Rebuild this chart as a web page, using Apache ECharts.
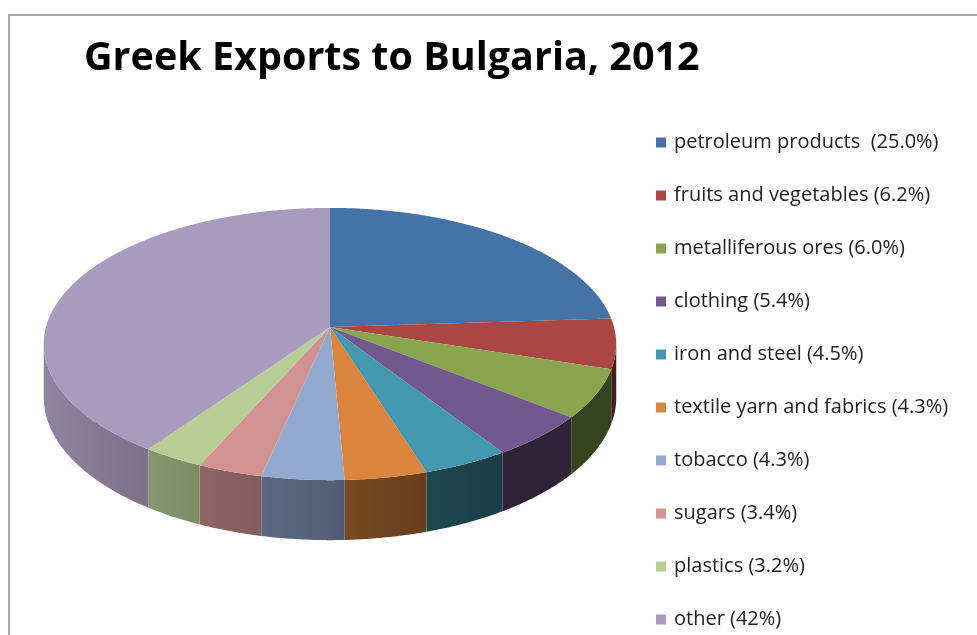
<!DOCTYPE html>
<html>
<head>
<meta charset="utf-8">
<script src="https://cdn.jsdelivr.net/npm/echarts@6/dist/echarts.min.js"></script>
<style>
  html, body { margin: 0; padding: 0; background: #fff; }
  #chart { width: 977px; height: 635px; }
</style>
</head>
<body>
<div id="chart"></div>
<script>
// Export categories and their shares (percent) in drawing order, clockwise from 12 o'clock
const categories = [
  'petroleum products', 'fruits and vegetables', 'metalliferous ores', 'clothing',
  'iron and steel', 'textile yarn and fabrics', 'tobacco', 'sugars', 'plastics', 'other'
];
const shares = [25.0, 6.2, 6.0, 5.4, 4.5, 4.3, 4.3, 3.4, 3.2, 42];
const shareText = ['25.0', '6.2', '6.0', '5.4', '4.5', '4.3', '4.3', '3.4', '3.2', '42'];
const sliceColors = [
  '#4572A7', '#AA4643', '#89A54E', '#71588F', '#4198AF',
  '#DB843D', '#93A9CF', '#D19392', '#B9CD96', '#A99BBD'
];

const legendNames = categories.map((c, i) => c + (i === 0 ? '  ' : ' ') + '(' + shareText[i] + '%)');

// Tilted-disc geometry (screen pixels)
const CX = 330, CY = 327;      // apex of the pie on the top face
const RX = 284, RY = 134;      // half-axes before perspective
const K = 0.125;               // perspective strength (far side shrinks)
const DEPTH = 52.5;            // disc thickness before perspective

const total = shares.reduce((a, b) => a + b, 0);
const TWO_PI = Math.PI * 2;

function project(theta, drop) {
  const u = Math.sin(theta), v = Math.cos(theta);
  const s = 1 / (1 + K * v);
  return [CX + RX * u * s, CY - RY * v * s + drop * s];
}

function shade(hex, f) {
  const n = parseInt(hex.slice(1), 16);
  const r = Math.round(((n >> 16) & 255) * f);
  const g = Math.round(((n >> 8) & 255) * f);
  const b = Math.round((n & 255) * f);
  return 'rgb(' + r + ',' + g + ',' + b + ')';
}

// Side lighting: walls facing left are lit, those facing right fall into shadow
function wallFactor(theta) {
  const u = Math.sin(theta);
  return Math.max(0.4, 0.56 - 0.3 * u);
}

function arc(a0, a1, drop) {
  const pts = [];
  const steps = Math.max(2, Math.ceil(Math.abs(a1 - a0) / (Math.PI / 360)));
  for (let j = 0; j <= steps; j++) {
    pts.push(project(a0 + (a1 - a0) * j / steps, drop));
  }
  return pts;
}

// Visible front rim lies between the two silhouette points
const FRONT_START = Math.acos(-K);
const FRONT_END = TWO_PI - Math.acos(-K);

function renderSlice(index, api) {
  let before = 0;
  for (let j = 0; j < index; j++) before += shares[j];
  const a0 = before / total * TWO_PI;
  const a1 = (before + api.value(0)) / total * TWO_PI;
  const color = sliceColors[index];
  const children = [];

  const w0 = Math.max(a0, FRONT_START), w1 = Math.min(a1, FRONT_END);
  if (w1 > w0) {
    const top = arc(w0, w1, 0);
    const bottom = arc(w0, w1, DEPTH).reverse();
    const xa = project(w0, 0)[0], xb = project(w1, 0)[0];
    const xmin = Math.min(xa, xb), xmax = Math.max(xa, xb);
    const stops = [];
    const n = 8;
    for (let j = 0; j <= n; j++) {
      const t = w0 + (w1 - w0) * j / n;
      const x = project(t, 0)[0];
      stops.push({ offset: xmax > xmin ? (x - xmin) / (xmax - xmin) : 0, color: shade(color, wallFactor(t)) });
    }
    stops.sort((p, q) => p.offset - q.offset);
    children.push({
      type: 'polygon',
      shape: { points: top.concat(bottom) },
      style: { fill: new echarts.graphic.LinearGradient(xmin, 0, xmax, 0, stops, true) },
      silent: true
    });
  }

  children.push({
    type: 'polygon',
    shape: { points: [[CX, CY]].concat(arc(a0, a1, 0)) },
    style: { fill: color },
    silent: true
  });

  return { type: 'group', children: children };
}

const chart = echarts.init(document.getElementById('chart'));
chart.setOption({
  animation: false,
  backgroundColor: '#fff',
  title: {
    text: 'Greek Exports to Bulgaria, 2012',
    left: 84,
    top: 39,
    padding: 0,
    textStyle: { fontFamily: 'Open Sans', fontWeight: 'bold', fontSize: 39.5, color: '#000' }
  },
  graphic: [{
    type: 'rect',
    shape: { x: 9, y: 15, width: 1000, height: 700 },
    style: { fill: 'none', stroke: '#a9a9a9', lineWidth: 2 },
    silent: true
  }],
  legend: {
    orient: 'vertical',
    left: 656,
    top: 132.5,
    height: 560,
    padding: 0,
    icon: 'rect',
    itemWidth: 10,
    itemHeight: 10,
    itemGap: 33,
    selectedMode: false,
    textStyle: { fontFamily: 'Open Sans', fontSize: 20, color: '#222', lineHeight: 20, padding: [0, 0, 0, 3] },
    data: legendNames
  },
  series: categories.map((c, i) => ({
    type: 'custom',
    name: legendNames[i],
    coordinateSystem: 'none',
    itemStyle: { color: sliceColors[i] },
    data: [shares[i]],
    renderItem: (params, api) => renderSlice(i, api)
  }))
});
</script>
</body>
</html>
